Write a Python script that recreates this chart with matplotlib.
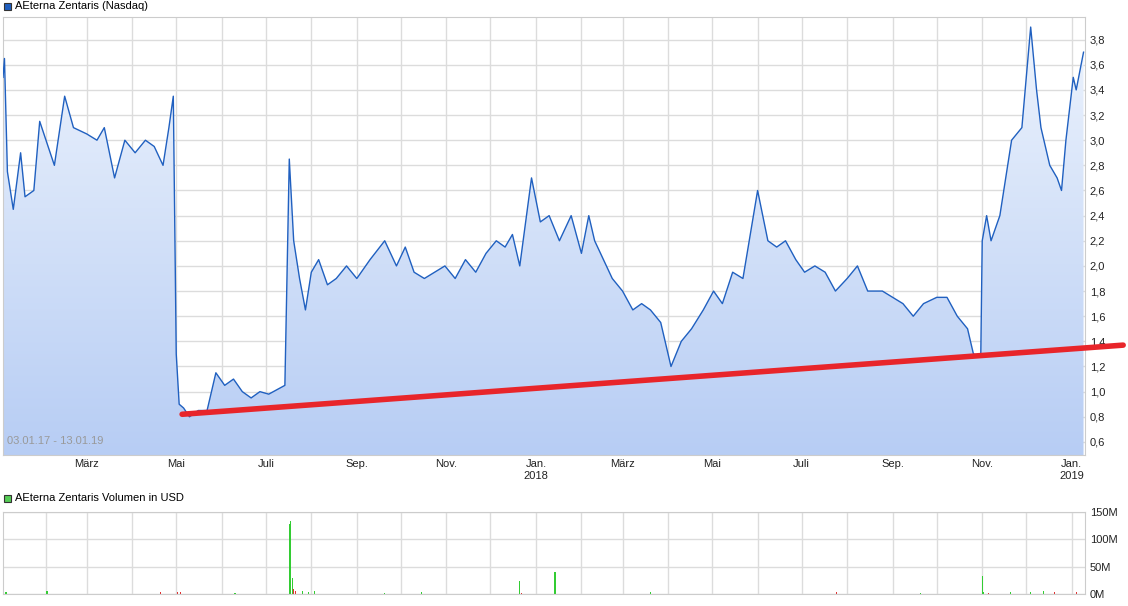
import numpy as np
import pandas as pd
import matplotlib
matplotlib.use("Agg")
import matplotlib.pyplot as plt
import matplotlib.dates as mdates
from matplotlib.patches import Rectangle

plt.rcParams['font.family'] = ['Liberation Sans', 'DejaVu Sans']

# Kursdaten
dates = ["2017-01-03", "2017-01-04", "2017-01-06", "2017-01-10", "2017-01-15", "2017-01-18",
         "2017-01-24", "2017-01-28", "2017-02-07", "2017-02-14", "2017-02-20", "2017-03-01",
         "2017-03-08", "2017-03-13", "2017-03-20", "2017-03-27", "2017-04-03", "2017-04-10",
         "2017-04-16", "2017-04-22", "2017-04-26", "2017-04-29", "2017-05-01", "2017-05-03",
         "2017-05-06", "2017-05-10", "2017-05-16", "2017-05-22", "2017-05-28", "2017-06-03",
         "2017-06-09", "2017-06-15", "2017-06-21", "2017-06-27", "2017-07-03", "2017-07-14",
         "2017-07-17", "2017-07-20", "2017-07-24", "2017-07-28", "2017-08-01", "2017-08-06",
         "2017-08-12", "2017-08-18", "2017-08-25", "2017-09-01", "2017-09-10", "2017-09-20",
         "2017-09-28", "2017-10-04", "2017-10-10", "2017-10-17", "2017-10-24", "2017-10-31",
         "2017-11-07", "2017-11-14", "2017-11-21", "2017-11-28", "2017-12-05", "2017-12-11",
         "2017-12-16", "2017-12-21", "2017-12-29", "2018-01-04", "2018-01-10", "2018-01-17",
         "2018-01-25", "2018-02-01", "2018-02-06", "2018-02-10", "2018-02-16", "2018-02-22",
         "2018-03-01", "2018-03-08", "2018-03-14", "2018-03-20", "2018-03-27", "2018-04-03",
         "2018-04-10", "2018-04-17", "2018-04-25", "2018-05-02", "2018-05-08", "2018-05-15",
         "2018-05-22", "2018-06-01", "2018-06-08", "2018-06-14", "2018-06-20", "2018-06-27",
         "2018-07-03", "2018-07-10", "2018-07-17", "2018-07-24", "2018-08-01", "2018-08-08",
         "2018-08-15", "2018-08-25", "2018-09-01", "2018-09-08", "2018-09-15", "2018-09-22",
         "2018-10-01", "2018-10-08", "2018-10-15", "2018-10-22", "2018-10-26", "2018-10-31",
         "2018-11-01", "2018-11-04", "2018-11-07", "2018-11-13", "2018-11-21", "2018-11-28",
         "2018-12-04", "2018-12-08", "2018-12-11", "2018-12-17", "2018-12-22", "2018-12-25",
         "2018-12-28", "2019-01-02", "2019-01-04", "2019-01-09"]
prices = [3.5, 3.65, 2.75, 2.45, 2.9, 2.55, 2.6, 3.15, 2.8, 3.35, 3.1, 3.05,
          3.0, 3.1, 2.7, 3.0, 2.9, 3.0, 2.95, 2.8, 3.1, 3.35, 1.3, 0.9,
          0.87, 0.8, 0.85, 0.85, 1.15, 1.05, 1.1, 1.0, 0.95, 1.0, 0.98, 1.05,
          2.85, 2.2, 1.9, 1.65, 1.95, 2.05, 1.85, 1.9, 2.0, 1.9, 2.05, 2.2,
          2.0, 2.15, 1.95, 1.9, 1.95, 2.0, 1.9, 2.05, 1.95, 2.1, 2.2, 2.15,
          2.25, 2.0, 2.7, 2.35, 2.4, 2.2, 2.4, 2.1, 2.4, 2.2, 2.05, 1.9,
          1.8, 1.65, 1.7, 1.65, 1.55, 1.2, 1.4, 1.5, 1.65, 1.8, 1.7, 1.95,
          1.9, 2.6, 2.2, 2.15, 2.2, 2.05, 1.95, 2.0, 1.95, 1.8, 1.9, 2.0,
          1.8, 1.8, 1.75, 1.7, 1.6, 1.7, 1.75, 1.75, 1.6, 1.5, 1.3, 1.28,
          2.2, 2.4, 2.2, 2.4, 3.0, 3.1, 3.9, 3.4, 3.1, 2.8, 2.7, 2.6,
          3.0, 3.5, 3.4, 3.7]

trend_dates = ["2017-05-05", "2019-02-05"]
trend_values = [0.82, 1.37]

vol_dates = ["2017-01-05", "2017-02-02", "2017-04-20", "2017-05-02", "2017-05-04", "2017-06-10",
             "2017-07-17", "2017-07-18", "2017-07-19", "2017-07-20", "2017-07-21", "2017-07-26",
             "2017-07-30", "2017-08-03", "2017-09-20", "2017-10-15", "2017-12-21", "2017-12-22",
             "2018-01-14", "2018-03-20", "2018-07-25", "2018-09-20", "2018-11-01", "2018-11-02",
             "2018-11-05", "2018-11-20", "2018-12-04", "2018-12-13", "2018-12-20", "2019-01-04"]
volumes = [4, 6, 3, 3, 3, 2, 128, 133, 30, 9, 6, 5, 4, 6, 2, 4, 24, 2,
           41, 3, 3, 2, 33, 3, 2, 4, 3, 6, 3, 3]
vol_up = [True, True, False, False, False, True, True, True, True, False, False, True,
          True, True, True, True, True, False, True, True, False, True, True, True,
          False, True, True, True, False, False]

d = pd.to_datetime(dates)
td = pd.to_datetime(trend_dates)
vd = pd.to_datetime(vol_dates)

fig = plt.figure(figsize=(11.28, 6.06), dpi=100)
ax = fig.add_axes([3/1128, 151/606, 1082/1128, 438/606])
axv = fig.add_axes([3/1128, 12/606, 1082/1128, 82/606])

x0, x1 = pd.Timestamp("2017-01-03"), pd.Timestamp("2019-01-10")
ymin, ymax = 0.496, 3.98

# Verlauf unter der Kurve
grad = np.linspace(0, 1, 256).reshape(-1, 1)
cmap = matplotlib.colors.LinearSegmentedColormap.from_list("g", ["#b7cdf4", "#eef4fd"])
im = ax.imshow(grad, aspect="auto", cmap=cmap, origin="lower",
               extent=[mdates.date2num(x0), mdates.date2num(x1), ymin, ymax], zorder=1)
poly = ax.fill_between(d, prices, ymin, color="none")
im.set_clip_path(poly.get_paths()[0], transform=ax.transData)
ax.plot(d, prices, color="#2060c0", lw=1, zorder=3)
ax.plot(td, trend_values, color="#e8252a", lw=4, zorder=4, clip_on=False, solid_capstyle="round")

for a in (ax, axv):
    a.set_xlim(x0, x1)
    a.xaxis.set_minor_locator(mdates.MonthLocator())
    a.grid(True, which="both", color="#dcdcdc", lw=1)
    a.set_axisbelow(True)
    a.yaxis.tick_right()
    a.tick_params(which="both", length=0, labelsize=8, colors="#222222")
    for s in a.spines.values():
        s.set_color("#cccccc")

ax.set_ylim(ymin, ymax)
yt = np.arange(0.6, 3.81, 0.2)
ax.set_yticks(yt)
ax.set_yticklabels([f"{v:.1f}".replace(".", ",") for v in yt])
ticks = pd.to_datetime(["2017-03-01", "2017-05-01", "2017-07-01", "2017-09-01", "2017-11-01",
                        "2018-01-01", "2018-03-01", "2018-05-01", "2018-07-01", "2018-09-01",
                        "2018-11-01", "2019-01-01"])
labels = ["März", "Mai", "Juli", "Sep.", "Nov.", "Jan.\n2018", "März", "Mai", "Juli", "Sep.",
          "Nov.", "Jan.\n2019"]
ax.set_xticks(ticks)
ax.set_xticklabels(labels)
ax.tick_params(axis="x", pad=3)
ax.text(0.004, 0.025, "03.01.17 - 13.01.19", transform=ax.transAxes, fontsize=8, color="#999999")

colors = ["#33cc33" if u else "#e03030" for u in vol_up]
axv.bar(vd, volumes, width=0.8, color=colors)
axv.set_ylim(0, 150)
axv.set_yticks([0, 50, 100, 150])
axv.set_yticklabels(["0M", "50M", "100M", "150M"])
axv.set_xticks(ticks)
axv.set_xticklabels([])

# Legendenkästchen
fig.patches.append(Rectangle((4/1128, 1-10/606), 7/1128, 7/606, transform=fig.transFigure,
                             facecolor="#1f5fbf", edgecolor="#333333", lw=0.8))
fig.text(15/1128, 1-6/606, "AEterna Zentaris (Nasdaq)", fontsize=8, va="center")
fig.patches.append(Rectangle((4/1128, 1-502/606), 7/1128, 7/606, transform=fig.transFigure,
                             facecolor="#55cc55", edgecolor="#333333", lw=0.8))
fig.text(15/1128, 1-498/606, "AEterna Zentaris Volumen in USD", fontsize=8, va="center")

fig.savefig("out.png", dpi=100)
